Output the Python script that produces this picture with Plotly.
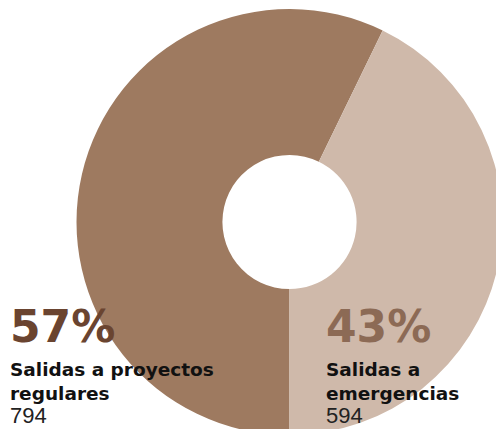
import plotly.graph_objects as go

# Data
categories = ["Salidas a proyectos regulares", "Salidas a emergencias"]
counts = [794, 594]
percent_labels = ["57%", "43%"]
slice_colors = ["#9e7a60", "#cfb9aa"]
pct_colors = ["#6a4430", "#8c6a55"]

W, H = 503, 436

def px(x):
    return x / W

def py(y):
    return 1 - y / H

fig = go.Figure(go.Pie(
    labels=categories,
    values=counts,
    sort=False,
    direction="clockwise",
    rotation=180,
    hole=0.315,
    marker=dict(colors=slice_colors, line=dict(width=0)),
    textinfo="none",
    hoverinfo="label+value+percent",
    showlegend=False,
    domain=dict(x=[px(76.5), px(502.5)], y=[py(435), py(9)]),
))

annotations = []
blocks = [
    (9, percent_labels[0], pct_colors[0], ["Salidas a proyectos", "regulares"], counts[0]),
    (325, percent_labels[1], pct_colors[1], ["Salidas a", "emergencias"], counts[1]),
]
for x0, pct, pcol, lines, cnt in blocks:
    annotations.append(dict(
        x=px(x0), y=py(326), xref="paper", yref="paper",
        xanchor="left", yanchor="middle", showarrow=False, borderpad=0,
        text=f"<b>{pct}</b>",
        font=dict(family="DejaVu Sans", size=44, color=pcol),
    ))
    for i, (ln, yc) in enumerate(zip(lines, [369, 393])):
        annotations.append(dict(
            x=px(x0), y=py(yc), xref="paper", yref="paper",
            xanchor="left", yanchor="middle", showarrow=False, borderpad=0,
            text=f"<b>{ln}</b>",
            font=dict(family="DejaVu Sans", size=18.5, color="#111111"),
        ))
    annotations.append(dict(
        x=px(x0), y=py(429), xref="paper", yref="paper",
        xanchor="left", yanchor="bottom", showarrow=False, borderpad=0,
        text=f"{cnt}",
        font=dict(family="Liberation Sans", size=22, color="#222222"),
    ))

fig.update_layout(
    width=W, height=H,
    margin=dict(l=0, r=0, t=0, b=0),
    paper_bgcolor="white",
    plot_bgcolor="white",
    annotations=annotations,
)

fig.write_html("out.html")
